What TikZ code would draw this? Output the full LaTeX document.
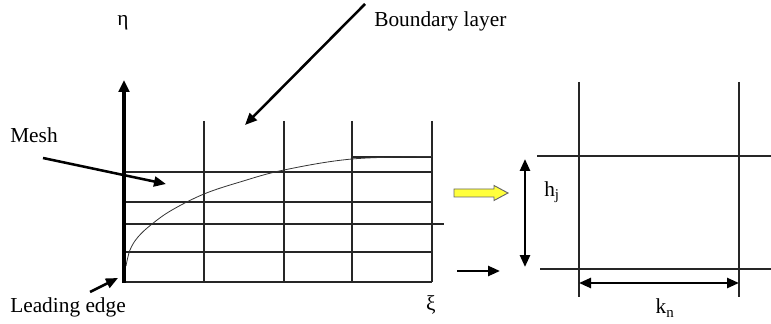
\documentclass[tikz,border=0pt]{standalone}
\usepackage{fontspec}
\setmainfont{Liberation Serif}
\usetikzlibrary{arrows.meta}
\definecolor{arrowyellow}{RGB}{255,255,60}
\tikzset{
  px/.style={x=0.75pt,y=-0.75pt},
  gridline/.style={line width=0.8pt,black!85},
  axisline/.style={line width=2.4pt,-{Triangle[length=9pt,width=8pt]}},
  pointer/.style={line width=1.9pt,-{Triangle[length=9pt,width=7.5pt]}},
  dimarrow/.style={line width=1.9pt,{Triangle[length=9pt,width=7.5pt]}-{Triangle[length=9pt,width=7.5pt]}},
  lbl/.style={inner sep=0pt,font=\fontsize{16}{19}\selectfont}
}
\begin{document}
\begin{tikzpicture}[px]
\useasboundingbox (0,0) rectangle (771,324);
% ---------- left mesh ----------
\foreach \x in {204,284,352,432} \draw[gridline] (\x,121) -- (\x,282);
\foreach \y in {172,202,252,282} \draw[gridline] (124,\y) -- (432,\y);
\draw[gridline] (124,224) -- (444,224);
\draw[gridline] (352,157) -- (432,157);
% boundary layer curve
\draw[line width=0.6pt,black!80] plot[smooth,tension=0.6] coordinates {(126,266) (130,250) (138,237) (152,224) (172,210) (204,194) (240,182) (284,170) (352,159) (432,156.5)};
% axis
\coordinate (origin) at (124,283);
\coordinate (etatip) at (124,80);
\draw[axisline] (origin) -- (etatip);
% labels
\node[lbl] (eta) at (123,23) {η};
\node[lbl] (xi) at (431,305) {ξ};
\node[lbl,anchor=west] (bl) at (374,21) {Boundary layer};
\node[lbl,anchor=west] (mesh) at (10,135) {Mesh};
\node[lbl,anchor=west] (le) at (10,307) {Leading edge};
% pointers
\coordinate (blstart) at (365,4);
\coordinate (bltip) at (245,125);
\draw[pointer] (blstart) -- (bltip);
\coordinate (meshstart) at (43,158);
\coordinate (meshtip) at (166,184);
\draw[pointer] (meshstart) -- (meshtip);
\coordinate (lestart) at (90,292);
\coordinate (letip) at (118,278);
\draw[pointer] (lestart) -- (letip);
% ---------- transfer arrows ----------
\draw[line width=0.7pt,black!60,fill=arrowyellow] (454,189) -- (494,189) -- (494,185.5) -- (508,193) -- (494,200.5) -- (494,197) -- (454,197) -- cycle;
\coordinate (bastart) at (457,271);
\coordinate (batip) at (500,271);
\draw[pointer] (bastart) -- (batip);
% ---------- right cell ----------
\draw[gridline] (537,156) -- (771,156);
\draw[gridline] (540,269) -- (771,269);
\draw[gridline] (579,82) -- (579,297);
\draw[gridline] (739,82) -- (739,297);
\coordinate (htop) at (525,159);
\coordinate (hbot) at (525,267);
\draw[dimarrow] (htop) -- (hbot);
\coordinate (kleft) at (579,283);
\coordinate (kright) at (739,283);
\draw[dimarrow] (kleft) -- (kright);
\node[lbl] (hj) at (552,192) {h\textsubscript{j}};
\node[lbl] (kn) at (665,308) {k\textsubscript{n}};
\end{tikzpicture}
\end{document}
